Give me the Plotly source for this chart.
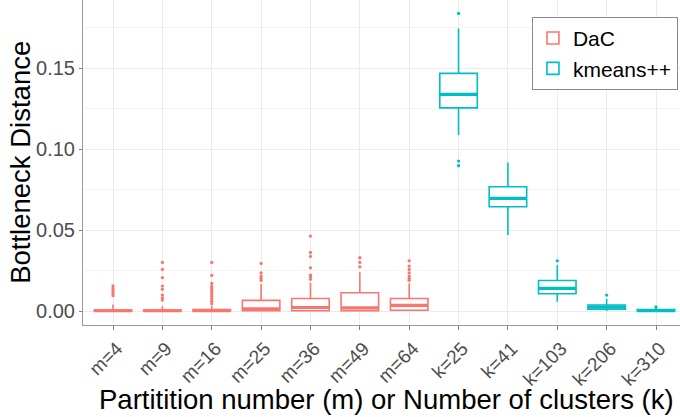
import plotly.graph_objects as go

# ---------------- data ----------------
labels = ["m=4", "m=9", "m=16", "m=25", "m=36", "m=49", "m=64",
          "k=25", "k=41", "k=103", "k=206", "k=310"]

dac_pos = [0, 1, 2, 3, 4, 5, 6]
dac_q1 = [0.0000, 0.0000, 0.0000, 0.0002, 0.0002, 0.0002, 0.0005]
dac_med = [0.0002, 0.0002, 0.0003, 0.0014, 0.0022, 0.0020, 0.0035]
dac_q3 = [0.0006, 0.0007, 0.0010, 0.0066, 0.0078, 0.0113, 0.0078]
dac_lo = [0.0000, 0.0000, 0.0000, 0.0000, 0.0000, 0.0000, 0.0000]
dac_hi = [0.0040, 0.0030, 0.0030, 0.0167, 0.0175, 0.0239, 0.0171]
dac_out = [
    [0.0155, 0.0140, 0.0125, 0.0110, 0.0095],
    [0.0300, 0.0257, 0.0206, 0.0154, 0.0134, 0.0099, 0.0082, 0.0068],
    [0.0300, 0.0220, 0.0170, 0.0150, 0.0135, 0.0120, 0.0105, 0.0090, 0.0075, 0.0060, 0.0045],
    [0.0294, 0.0236, 0.0216, 0.0202, 0.0190],
    [0.0463, 0.0362, 0.0337, 0.0267, 0.0222, 0.0212, 0.0196],
    [0.0329, 0.0300, 0.0273],
    [0.0310, 0.0278, 0.0257, 0.0236, 0.0216, 0.0202, 0.0190],
]

km_pos = [7, 8, 9, 10, 11]
km_q1 = [0.1254, 0.0644, 0.0107, 0.0012, 0.0000]
km_med = [0.1337, 0.0695, 0.0140, 0.0025, 0.0003]
km_q3 = [0.1467, 0.0767, 0.0189, 0.0037, 0.0010]
km_lo = [0.1086, 0.0469, 0.0057, 0.0000, 0.0000]
km_hi = [0.1744, 0.0917, 0.0285, 0.0074, 0.0020]
km_out = [
    [0.1837, 0.0926, 0.0897],
    [],
    [0.0310],
    [0.0099],
    [0.0025],
]

series_names = ["DaC", "kmeans++"]
colors = ["#F8766D", "#00BFC4"]
x_title = "Partitition number (m) or Number of clusters (k)"
y_title = "Bottleneck Distance"

# ---------------- figure ----------------
BOXW = 0.76
fig = go.Figure()

groups = [
    (series_names[0], colors[0], dac_pos, dac_q1, dac_med, dac_q3, dac_lo, dac_hi, dac_out),
    (series_names[1], colors[1], km_pos, km_q1, km_med, km_q3, km_lo, km_hi, km_out),
]

for name, col, pos, q1, med, q3, lo, hi, outs in groups:
    fig.add_trace(go.Box(
        name=name, x=pos, q1=q1, median=med, q3=q3,
        lowerfence=lo, upperfence=hi,
        width=BOXW, whiskerwidth=0,
        line=dict(color=col, width=1.6), fillcolor="white",
        boxpoints=False, showlegend=True, hoverinfo="skip",
    ))
    # thicker median line (ggplot fatten)
    mx, my = [], []
    for p, m in zip(pos, med):
        mx += [p - BOXW / 2, p + BOXW / 2, None]
        my += [m, m, None]
    fig.add_trace(go.Scatter(x=mx, y=my, mode="lines",
                             line=dict(color=col, width=3.2),
                             showlegend=False, hoverinfo="skip"))
    # outliers
    ox, oy = [], []
    for p, o in zip(pos, outs):
        ox += [p] * len(o)
        oy += o
    fig.add_trace(go.Scatter(x=ox, y=oy, mode="markers",
                             marker=dict(color=col, size=3.3),
                             showlegend=False, hoverinfo="skip"))

FONT = "Liberation Sans, Arial, sans-serif"
fig.update_layout(
    width=680, height=417,
    margin=dict(l=83, r=0, t=0, b=92),
    paper_bgcolor="white", plot_bgcolor="white",
    boxmode="overlay",
    font=dict(family=FONT, color="black"),
    legend=dict(
        x=0.752, y=0.948, xanchor="left", yanchor="top",
        bgcolor="white", bordercolor="#8a8a8a", borderwidth=1,
        font=dict(size=21, color="black"),
        itemwidth=30, tracegroupgap=0,
    ),
    xaxis=dict(
        range=[-0.608, 11.486],
        tickvals=list(range(len(labels))), ticktext=labels,
        tickangle=-45, tickfont=dict(size=19, color="#4d4d4d"),
        ticklabelshift=4,
        ticks="outside", ticklen=4, tickcolor="#7f7f7f",
        showgrid=True, gridcolor="#ebebeb", gridwidth=1,
        showline=True, linecolor="#9a9a9a", linewidth=1,
        zeroline=False, automargin=False,
    ),
    yaxis=dict(
        range=[-0.0086, 0.192],
        tickvals=[0, 0.05, 0.10, 0.15], tickformat=".2f",
        tickfont=dict(size=20, color="#4d4d4d"),
        ticks="outside", ticklen=3, tickcolor="#7f7f7f",
        showgrid=True, gridcolor="#ebebeb", gridwidth=1,
        minor=dict(tickvals=[0.025, 0.075, 0.125, 0.175], showgrid=True,
                   gridcolor="#f4f4f4", gridwidth=1, ticks=""),
        showline=True, linecolor="#9a9a9a", linewidth=1,
        zeroline=False, automargin=False,
    ),
    annotations=[
        dict(text=x_title, xref="paper", yref="paper", x=0.5087, y=-0.228,
             xanchor="center", yanchor="middle", showarrow=False,
             font=dict(size=27.5, color="black")),
        dict(text=y_title, xref="paper", yref="paper", x=-0.105, y=0.5,
             xanchor="center", yanchor="middle", showarrow=False, textangle=-90,
             font=dict(size=27.5, color="black")),
    ],
)

fig.write_html("out.html")
